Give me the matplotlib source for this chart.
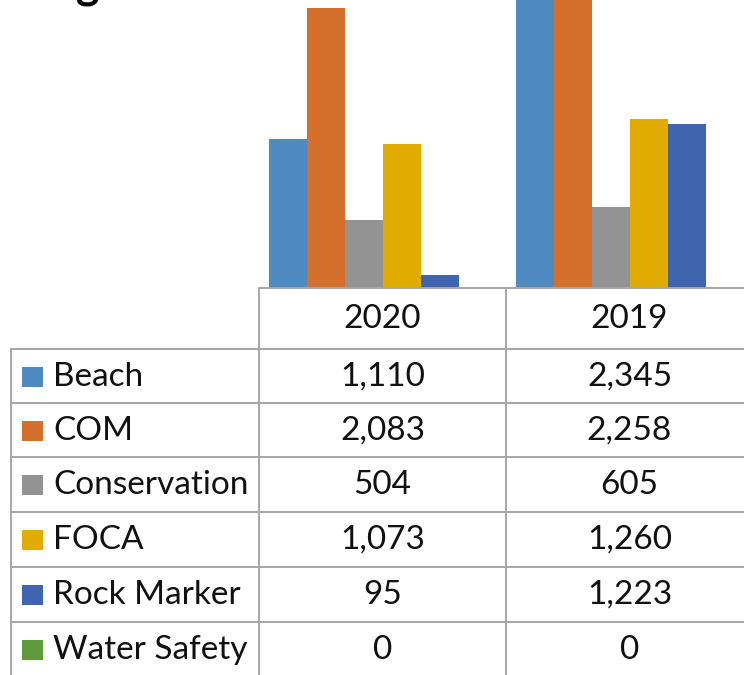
import numpy as np
import matplotlib
matplotlib.use("Agg")
import matplotlib.pyplot as plt
from matplotlib.patches import Rectangle

plt.rcParams.update({"font.family": ["Lato", "DejaVu Sans"]})

# Data
years = ["2020", "2019"]
series = ["Beach", "COM", "Conservation", "FOCA", "Rock Marker", "Water Safety"]
values_2020 = [1110, 2083, 504, 1073, 95, 0]
values_2019 = [2345, 2258, 605, 1260, 1223, 0]
colors = ["#4F8BC0", "#D46F2C", "#939393", "#E2AB00", "#3F65AE", "#5F9A3C"]

W, H = 744, 675
fig = plt.figure(figsize=(W / 100, H / 100), dpi=100)

# pixel layout of the (cropped) chart
col_w = 247
x_lab0, x_lab1 = 11, 259
y_base = 288
row_lines = [349, 403, 457, 512, 567, 622]
row_h = 54.6

def fx(px):
    return px / W

def fy(py):
    return 1 - py / H

# bar axes: two category columns, second one runs past the right edge
ax = fig.add_axes([fx(x_lab1), fy(y_base), fx(2 * col_w), y_base / H])
ax.set_xlim(-0.5, 1.5)
ax.set_ylim(0, 2083 * y_base / 280)
bw = 38 / col_w
xs = np.arange(len(years))
for i, (name, col) in enumerate(zip(series, colors)):
    vals = [values_2020[i], values_2019[i]]
    ax.bar(xs + (i - 2.5) * bw, vals, width=bw, color=col, linewidth=0)
ax.axis("off")

# overlay in pixel coordinates for the data table
tb = fig.add_axes([0, 0, 1, 1], zorder=5)
tb.set_xlim(0, W)
tb.set_ylim(H, 0)
tb.axis("off")
tb.patch.set_alpha(0)

lc = "#A6A6A6"
lw = 1.4
tb.plot([x_lab1, W], [y_base, y_base], color=lc, lw=lw)
for y in row_lines:
    tb.plot([x_lab0, W], [y, y], color=lc, lw=lw)
tb.plot([x_lab0, x_lab0], [row_lines[0], H], color=lc, lw=lw)
tb.plot([x_lab1, x_lab1], [y_base, H], color=lc, lw=lw)
tb.plot([x_lab1 + col_w, x_lab1 + col_w], [y_base, H], color=lc, lw=lw)

fs = 24
centers = [x_lab1 + col_w * (j + 0.5) for j in range(len(years))]
for j, yr in enumerate(years):
    tb.text(centers[j], (y_base + row_lines[0]) / 2 + 1, yr, ha="center",
            va="center", fontsize=fs, color="#111")

for i, name in enumerate(series):
    yc = row_lines[i] + row_h / 2 + 0.5
    tb.add_patch(Rectangle((22, yc - 10), 21, 20, color=colors[i], lw=0))
    tb.text(53, yc, name, ha="left", va="center", fontsize=fs, color="#111")
    for j, vals in enumerate([values_2020, values_2019]):
        tb.text(centers[j], yc, f"{vals[i]:,}", ha="center", va="center",
                fontsize=fs, color="#111")

# cut-off title fragment at the top
tb.text(76, -1.5, "g", ha="left", va="baseline", fontsize=32,
        weight="bold", color="#000")

fig.savefig("out.png", dpi=100)
